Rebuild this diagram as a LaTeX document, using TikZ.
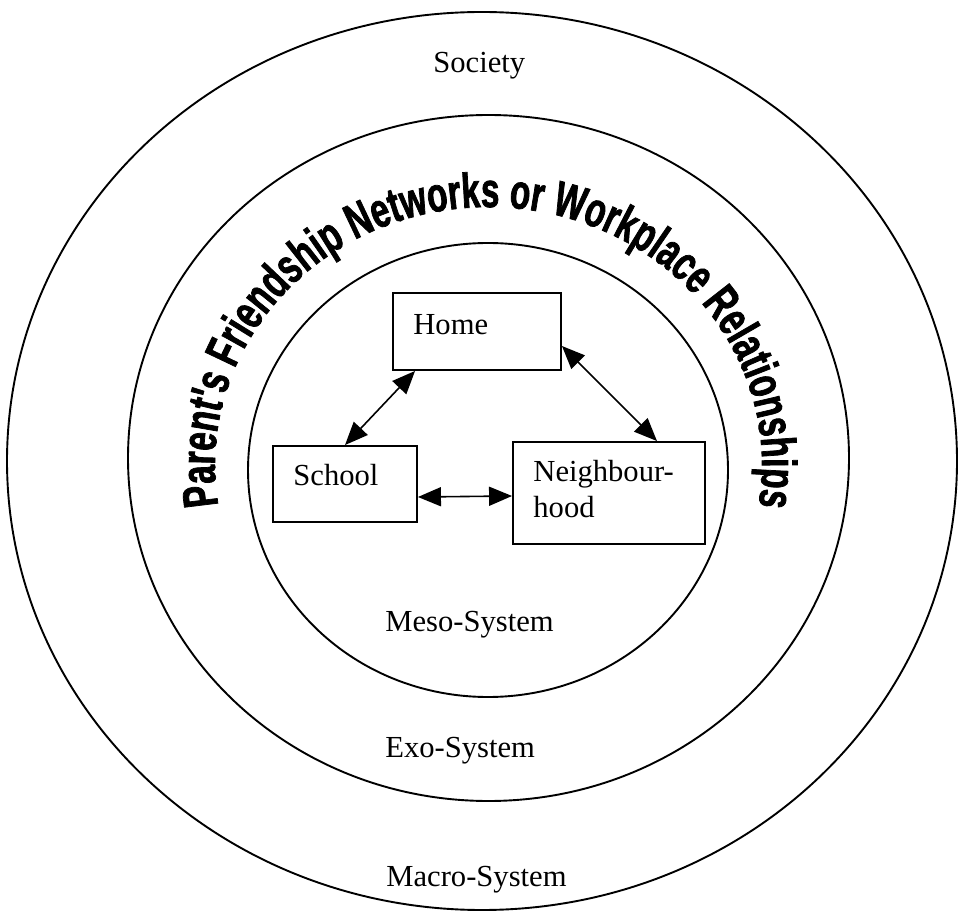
\documentclass[tikz,border=0pt]{standalone}
\usepackage{fontspec}
\setmainfont{Liberation Serif}
\newfontfamily\archfont[FakeStretch=0.68, BoldFeatures={FakeBold=1.5}]{Liberation Sans}
\usetikzlibrary{arrows.meta,calc,decorations.text}
\begin{document}
\begin{tikzpicture}[x=0.5pt,y=0.5pt,
  ring/.style={line width=0.95pt},
  box/.style={draw, line width=0.95pt, inner sep=0pt},
  lbl/.style={anchor=base west, inner sep=0pt, font=\fontsize{15.3}{18}\selectfont},
  link/.style={line width=0.8pt, {Triangle[length=11.5pt,width=9.5pt]}-{Triangle[length=11.5pt,width=9.5pt]}}
]
\useasboundingbox (0,0) rectangle (958,911);
% rings
\draw[ring] (482,450) ellipse [x radius=475, y radius=449];
\draw[ring] (488.5,453) ellipse [x radius=360.5, y radius=343];
\draw[ring] (488,441) ellipse [x radius=240, y radius=227];
% boxes
\node[box, minimum width=84pt, minimum height=38.5pt] (home) at (477,579.5) {};
\node[box, minimum width=72pt, minimum height=38pt] (school) at (345,427) {};
\node[box, minimum width=96pt, minimum height=51pt] (nb) at (609,418) {};
% box texts
\node[lbl] (homet) at (413,576) {Home};
\node[lbl] (schoolt) at (293,425) {School};
\node[lbl] (nbt) at (533,429) {\vtop{\baselineskip=17.5pt\hbox{Neighbour-}\hbox{hood}}};
% connectors
\draw[link] ($(home.south west)+(23,0)$) -- (school.north);
\draw[link] ($(home.east)+(0,-14.5)$) -- ($(nb.north)+(48,0)$);
\draw[link] ($(school.east)+(0,-13)$) -- ($(nb.west)+(0,-3)$);
% ring labels
\node[lbl] (society) at (433,838) {Society};
\node[lbl] (meso) at (385,279) {Meso-System};
\node[lbl] (exo) at (385,154) {Exo-System};
\node[lbl] (macro) at (386,25) {Macro-System};
% curved text
\path[decorate, decoration={text along path, text align={fit to path},
  text={|\archfont\bfseries\fontsize{24.5}{24.5}\selectfont|Parent's Friendship Networks or Workplace Relationships}}]
  (218.4,405.6) arc[start angle=189, end angle=-9, x radius=273.5, y radius=258];
\end{tikzpicture}
\end{document}
